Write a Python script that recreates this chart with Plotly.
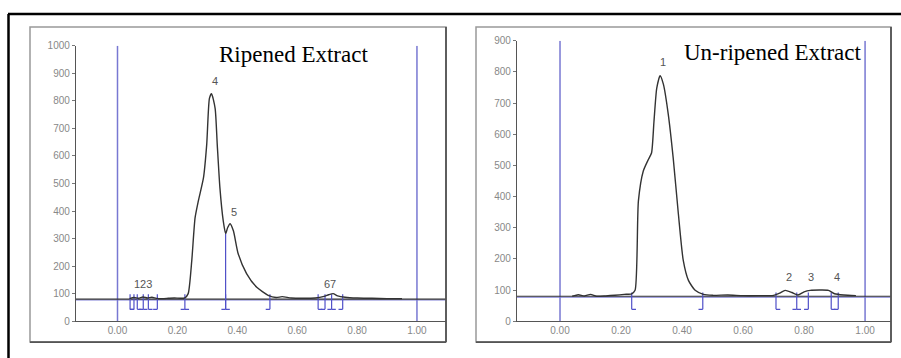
import plotly.graph_objects as go

W, H = 901, 358

# ---------------- data ----------------
rip_x = [0.04, 0.055, 0.07, 0.085, 0.10, 0.115, 0.13, 0.15, 0.17, 0.19, 0.21, 0.225, 0.236,
         0.248, 0.259, 0.270, 0.287, 0.298, 0.307, 0.314, 0.326, 0.333, 0.342, 0.353,
         0.361, 0.368, 0.376, 0.387, 0.403, 0.431, 0.465, 0.503, 0.53, 0.55, 0.58,
         0.62, 0.66, 0.69, 0.705, 0.72, 0.735, 0.76, 0.80, 0.85, 0.90, 0.95]
rip_y = [82, 86, 83, 88, 84, 87, 83, 82, 83, 84, 83, 85, 100,
         220, 375, 437, 520, 643, 809, 826, 773, 643, 484, 365,
         318, 340, 354, 328, 245, 173, 123, 94, 86, 89, 84,
         83, 84, 90, 96, 100, 92, 87, 84, 83, 82, 82]

unr_x = [0.04, 0.06, 0.08, 0.10, 0.12, 0.15, 0.18, 0.21, 0.235, 0.246, 0.257, 0.273,
         0.290, 0.300, 0.308, 0.317, 0.328, 0.339, 0.355, 0.371, 0.388, 0.404, 0.421,
         0.443, 0.47, 0.50, 0.55, 0.60, 0.65, 0.70, 0.72, 0.738, 0.76, 0.78, 0.80,
         0.82, 0.85, 0.88, 0.90, 0.93, 0.97]
unr_y = [80, 85, 81, 86, 80, 81, 83, 86, 88, 99, 386, 482,
         520, 540, 641, 747, 788, 760, 663, 524, 344, 195, 131,
         99, 86, 83, 84, 82, 82, 83, 90, 99, 92, 84, 94,
         99, 100, 99, 88, 84, 82]

rip_baseline = 80
unr_baseline = 80

rip_mark_x = [0.042, 0.055, 0.066, 0.086, 0.103, 0.133, 0.225, 0.361, 0.509, 0.670, 0.693, 0.715, 0.752]
rip_mark_k = ["[", "]", "[", "I", "[", "]", "I", "I", "]", "[", "]", "I", "]"]
unr_mark_x = [0.235, 0.468, 0.708, 0.776, 0.814, 0.889, 0.912]
unr_mark_k = ["[", "]", "[", "I", "]", "[", "]"]

rip_labels = ["123", "4", "5", "67"]
rip_label_x = [0.085, 0.325, 0.39, 0.71]
rip_label_y = [122, 858, 382, 122]
unr_labels = ["1", "2", "3", "4"]
unr_label_x = [0.339, 0.749, 0.823, 0.907]
unr_label_y = [818, 128, 128, 128]

rip_yticks = list(range(0, 1001, 100))
unr_yticks = list(range(0, 901, 100))
x_ticks = [0.0, 0.2, 0.4, 0.6, 0.8, 1.0]
x_tick_text = ["0.00", "0.20", "0.40", "0.60", "0.80", "1.00"]

titles = ["Ripened Extract", "Un-ripened Extract"]

# ---------------- layout helpers ----------------
def px_x(p):
    return p / W

def px_y(p):
    return 1 - (p - 4) / 348

BLUE = "rgb(80,80,200)"
LBLUE = "rgb(120,120,210)"
CURVE = "#333333"

fig = go.Figure()

def marker_trace(mx, mk, top, low, xa, ya, foot):
    xs, ys = [], []
    for x, k in zip(mx, mk):
        xs += [x, x, None]
        ys += [top, low, None]
        if k in ("[", "I"):
            xs += [x, x + foot, None]
            ys += [low, low, None]
        if k in ("]", "I"):
            xs += [x - foot, x, None]
            ys += [low, low, None]
    return go.Scatter(x=xs, y=ys, mode="lines", line=dict(color=BLUE, width=1.2),
                      xaxis=xa, yaxis=ya, hoverinfo="skip", showlegend=False)

panels = [
    dict(x=rip_x, y=rip_y, base=rip_baseline, mx=rip_mark_x, mk=rip_mark_k,
         lab=rip_labels, lx=rip_label_x, ly=rip_label_y, ymax=1000, xr=[-0.1386, 1.097],
         xa="x", ya="y", top=98, low=43, tall=(0.361, 318)),
    dict(x=unr_x, y=unr_y, base=unr_baseline, mx=unr_mark_x, mk=unr_mark_k,
         lab=unr_labels, lx=unr_label_x, ly=unr_label_y, ymax=900, xr=[-0.141, 1.085],
         xa="x2", ya="y2", top=92, low=38, tall=None),
]

for p in panels:
    xa, ya = p["xa"], p["ya"]
    fig.add_trace(go.Scatter(x=[0, 0, None, 1, 1], y=[0, p["ymax"], None, 0, p["ymax"]],
                             mode="lines", line=dict(color=LBLUE, width=1.5),
                             xaxis=xa, yaxis=ya, hoverinfo="skip", showlegend=False))
    fig.add_trace(go.Scatter(x=[p["xr"][0], p["xr"][1]], y=[p["base"] - 3, p["base"] - 3],
                             mode="lines", line=dict(color=LBLUE, width=1),
                             xaxis=xa, yaxis=ya, hoverinfo="skip", showlegend=False))
    fig.add_trace(go.Scatter(x=[p["xr"][0], p["xr"][1]], y=[p["base"], p["base"]],
                             mode="lines", line=dict(color="#333", width=1.2),
                             xaxis=xa, yaxis=ya, hoverinfo="skip", showlegend=False))
    fig.add_trace(marker_trace(p["mx"], p["mk"], p["top"], p["low"], xa, ya, 0.014))
    if p["tall"]:
        tx, ty = p["tall"]
        fig.add_trace(go.Scatter(x=[tx, tx], y=[p["low"], ty], mode="lines",
                                 line=dict(color=BLUE, width=1.2),
                                 xaxis=xa, yaxis=ya, hoverinfo="skip", showlegend=False))
    fig.add_trace(go.Scatter(x=p["x"], y=p["y"], mode="lines",
                             line=dict(color=CURVE, width=1.4, shape="spline", smoothing=0.6),
                             xaxis=xa, yaxis=ya, hoverinfo="skip", showlegend=False))
    for t, lx, ly in zip(p["lab"], p["lx"], p["ly"]):
        fig.add_annotation(x=lx, y=ly, xref=xa, yref=ya, text=t, showarrow=False,
                           font=dict(family="Liberation Sans", size=11, color="#555"),
                           xanchor="center", yanchor="bottom", yshift=-4)

axis_font = dict(family="Liberation Sans", size=10, color="#888")

def xaxis_cfg(dom, rng, anchor):
    return dict(domain=dom, range=rng, anchor=anchor, showgrid=False, zeroline=False,
                showline=True, linecolor="#555", linewidth=1.3,
                tickmode="array", tickvals=x_ticks, ticktext=x_tick_text,
                ticks="", tickfont=axis_font, fixedrange=True)

def yaxis_cfg(dom, rng, tv, anchor):
    return dict(domain=dom, range=rng, anchor=anchor, showgrid=False, zeroline=False,
                showline=True, linecolor="#555", linewidth=1.3,
                tickmode="array", tickvals=tv, ticks="outside", ticklen=3,
                tickcolor="#777", tickfont=axis_font, fixedrange=True)

fig.update_layout(
    width=W, height=H, margin=dict(l=0, r=0, t=0, b=0),
    paper_bgcolor="white", plot_bgcolor="rgba(0,0,0,0)",
    xaxis=xaxis_cfg([px_x(76), px_x(446)], panels[0]["xr"], "y"),
    yaxis=yaxis_cfg([px_y(321), px_y(44)], [0, 1000], rip_yticks, "x"),
    xaxis2=xaxis_cfg([px_x(517), px_x(891)], panels[1]["xr"], "y2"),
    yaxis2=yaxis_cfg([px_y(321), px_y(39)], [0, 900], unr_yticks, "x2"),
    showlegend=False,
)

for x0, x1 in [(30, 446), (476, 891)]:
    fig.add_shape(type="rect", xref="paper", yref="paper",
                  x0=px_x(x0), x1=px_x(x1), y0=px_y(342), y1=px_y(25),
                  line=dict(color="#999", width=1.5), layer="below")
    fig.add_shape(type="line", xref="paper", yref="paper",
                  x0=px_x(x1), x1=px_x(x1), y0=px_y(342), y1=px_y(25),
                  line=dict(color="#555", width=1.8))
    fig.add_shape(type="line", xref="paper", yref="paper",
                  x0=px_x(x0), x1=px_x(x1), y0=px_y(342), y1=px_y(342),
                  line=dict(color="#555", width=1.8))

fig.add_shape(type="line", xref="paper", yref="paper", x0=px_x(8), x1=1,
              y0=px_y(12), y1=px_y(12), line=dict(color="black", width=2.5))
fig.add_shape(type="line", xref="paper", yref="paper", x0=px_x(8.5), x1=px_x(8.5),
              y0=px_y(360), y1=px_y(12), line=dict(color="black", width=2.5))

for t, cx, cy in zip(titles, [293, 773], [53, 51]):
    fig.add_annotation(x=px_x(cx), y=px_y(cy), xref="paper", yref="paper", text=t,
                       showarrow=False, xanchor="center", yanchor="middle",
                       font=dict(family="Liberation Serif", size=23, color="black"))

fig.write_html("out.html", config={"displayModeBar": False},
               post_script="document.body.style.margin='0';document.body.style.padding='0';")
